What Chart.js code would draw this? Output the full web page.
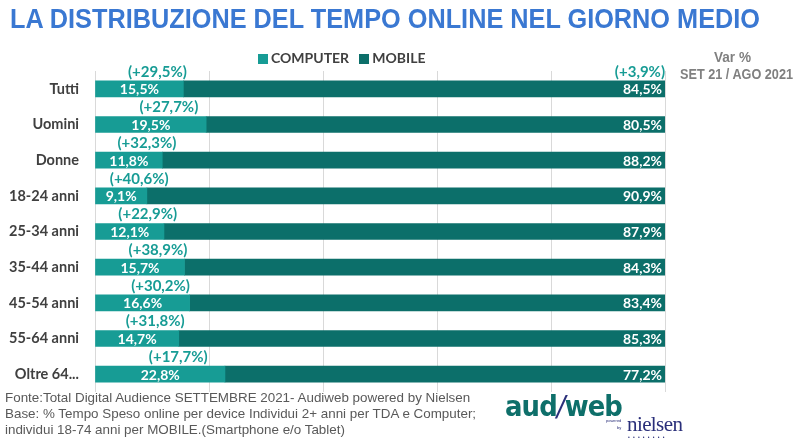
<!DOCTYPE html>
<html>
<head>
<meta charset="utf-8">
<script src="https://cdn.jsdelivr.net/npm/chart.js@4.4.0/dist/chart.umd.min.js"></script>
<style>
  html, body { margin:0; padding:0; background:#fff; }
  #wrap { position:relative; width:800px; height:443px; overflow:hidden; }
  #c { position:absolute; left:0; top:0; }
  .title { position:absolute; left:10px; top:4px; white-space:nowrap; font-family:"Liberation Sans",Arial,sans-serif; font-weight:bold; font-size:27px; color:#3a78d2; transform-origin:0 0; }
  .legend { position:absolute; top:49px; left:258px; font-family:Lato,"Open Sans",sans-serif; font-weight:bold; font-size:14px; color:#404040; white-space:nowrap; }
  .legend span.sq { display:inline-block; width:10px; height:10px; vertical-align:-1px; margin-right:3px; }
  .fit { position:absolute; white-space:nowrap; font-family:"Liberation Sans",Arial,sans-serif; font-weight:bold; font-size:14px; color:#808080; transform-origin:0 0; }
  .foot { position:absolute; left:5px; top:390px; font-family:"Liberation Sans",Arial,sans-serif; font-size:13.4px; color:#595959; line-height:16px; white-space:nowrap; }
  .logo { position:absolute; left:505px; top:389px; font-family:"DejaVu Sans",sans-serif; font-weight:bold; font-size:29px; color:#0e6f6a; letter-spacing:-1px; white-space:nowrap; transform-origin:0 0; line-height:34px; }
  .logo .i { color:#2a2f7a; font-style:italic; font-weight:normal; }
  .pow { position:absolute; left:606px; top:417px; font-family:"Liberation Sans",Arial,sans-serif; font-size:4px; color:#2a2f7a; line-height:7px; text-align:right; }
  .niel { position:absolute; left:627px; top:412px; font-family:"Liberation Serif","DejaVu Serif",serif; font-size:21px; color:#2a2f7a; letter-spacing:-0.6px; line-height:24px; }
  .dots { position:absolute; left:628px; top:434px; font-size:5px; color:#2a2f7a; letter-spacing:3.2px; font-family:"Liberation Sans",Arial,sans-serif; }
</style>
</head>
<body>
<div id="wrap">
  <canvas id="c" width="800" height="443"></canvas>
  <div class="title fitme" data-w="750">LA DISTRIBUZIONE DEL TEMPO ONLINE NEL GIORNO MEDIO</div>
  <div class="legend"><span class="sq" style="background:#179c95"></span>COMPUTER&nbsp;&nbsp;&nbsp;<span class="sq" style="background:#0c6f6a"></span>MOBILE</div>
  <div class="fit fitme" data-w="37" style="left:714px; top:49px;">Var %</div>
  <div class="fit fitme" data-w="113" style="left:680px; top:66px;">SET 21 / AGO 2021</div>
  <div class="foot">Fonte:Total Digital Audience SETTEMBRE 2021- Audiweb powered by Nielsen<br>Base: % Tempo Speso online per device Individui 2+ anni per TDA e Computer;<br>individui 18-74 anni per MOBILE.(Smartphone e/o Tablet)</div>
  <div class="logo fitme" data-w="117">aud<span class="i">/</span>web</div>
  <div class="pow">powered<br>by</div>
  <div class="niel">nielsen</div>
  <div class="dots">••••••••</div>
</div>
<script>
const categories = ["Tutti","Uomini","Donne","18-24 anni","25-34 anni","35-44 anni","45-54 anni","55-64 anni","Oltre 64..."];
const computerValues = [15.5, 19.5, 11.8, 9.1, 12.1, 15.7, 16.6, 14.7, 22.8];
const mobileValues = [84.5, 80.5, 88.2, 90.9, 87.9, 84.3, 83.4, 85.3, 77.2];
const computerVar = ["+29,5%","+27,7%","+32,3%","+40,6%","+22,9%","+38,9%","+30,2%","+31,8%","+17,7%"];
const mobileVar = ["+3,9%", null, null, null, null, null, null, null, null];
const xTicks = [0, 20, 40, 60, 80, 100];

const COMP = "#179c95", MOB = "#0c6f6a";
const fmt = v => v.toFixed(1).replace(".", ",") + "%";

document.querySelectorAll(".fitme").forEach(el => {
  const w = el.getBoundingClientRect().width;
  el.style.transform = "scaleX(" + (parseFloat(el.dataset.w) / w) + ")";
});

const labelPlugin = {
  id: "labels",
  afterDatasetsDraw(chart) {
    const ctx = chart.ctx;
    const m0 = chart.getDatasetMeta(0), m1 = chart.getDatasetMeta(1);
    ctx.save();
    ctx.textBaseline = "middle";
    m0.data.forEach((bar, i) => {
      const left = bar.base, right = bar.x;
      const mid = (left + right) / 2;
      ctx.font = "bold 14px Lato, 'Open Sans', sans-serif";
      ctx.fillStyle = "#ffffff";
      ctx.textAlign = "center";
      ctx.fillText(fmt(computerValues[i]), mid, bar.y + 1);
      if (computerVar[i]) {
        ctx.font = "bold 15px Lato, 'Open Sans', sans-serif";
        const txt = "(" + computerVar[i] + ")";
        const w = ctx.measureText(txt).width;
        let cx = mid + 18;
        if (cx - w / 2 < left + 4) cx = left + 4 + w / 2;
        ctx.fillStyle = COMP;
        ctx.fillText(txt, cx, bar.y - 17);
      }
    });
    m1.data.forEach((bar, i) => {
      ctx.font = "bold 14px Lato, 'Open Sans', sans-serif";
      ctx.fillStyle = "#ffffff";
      ctx.textAlign = "right";
      ctx.fillText(fmt(mobileValues[i]), bar.x - 3, bar.y + 1);
      if (mobileVar[i]) {
        ctx.font = "bold 15px Lato, 'Open Sans', sans-serif";
        ctx.fillStyle = COMP;
        ctx.fillText("(" + mobileVar[i] + ")", bar.x, bar.y - 17);
      }
    });
    ctx.restore();
  }
};

new Chart(document.getElementById("c"), {
  type: "bar",
  data: {
    labels: categories,
    datasets: [
      { label: "COMPUTER", data: computerValues, backgroundColor: COMP, barThickness: 16 },
      { label: "MOBILE", data: mobileValues, backgroundColor: MOB, barThickness: 16 }
    ]
  },
  options: {
    indexAxis: "y",
    responsive: false,
    animation: false,
    layout: { padding: { left: 0, right: 135, top: 71, bottom: 51 } },
    plugins: { legend: { display: false }, tooltip: { enabled: false } },
    scales: {
      x: {
        stacked: true, min: 0, max: 100,
        afterBuildTicks: s => { s.ticks = xTicks.map(v => ({ value: v })); },
        afterFit: s => { s.height = 0; },
        ticks: { display: false },
        border: { display: false },
        grid: { color: "#d9d9d9", lineWidth: 1, drawTicks: false }
      },
      y: {
        stacked: true,
        afterFit: s => { s.width = 95; },
        border: { display: false },
        grid: { display: false },
        ticks: { color: "#404040", padding: 8, font: { family: "Lato, 'Open Sans', sans-serif", weight: "bold", size: 14.5 } }
      }
    }
  },
  plugins: [labelPlugin]
});
</script>
</body>
</html>
